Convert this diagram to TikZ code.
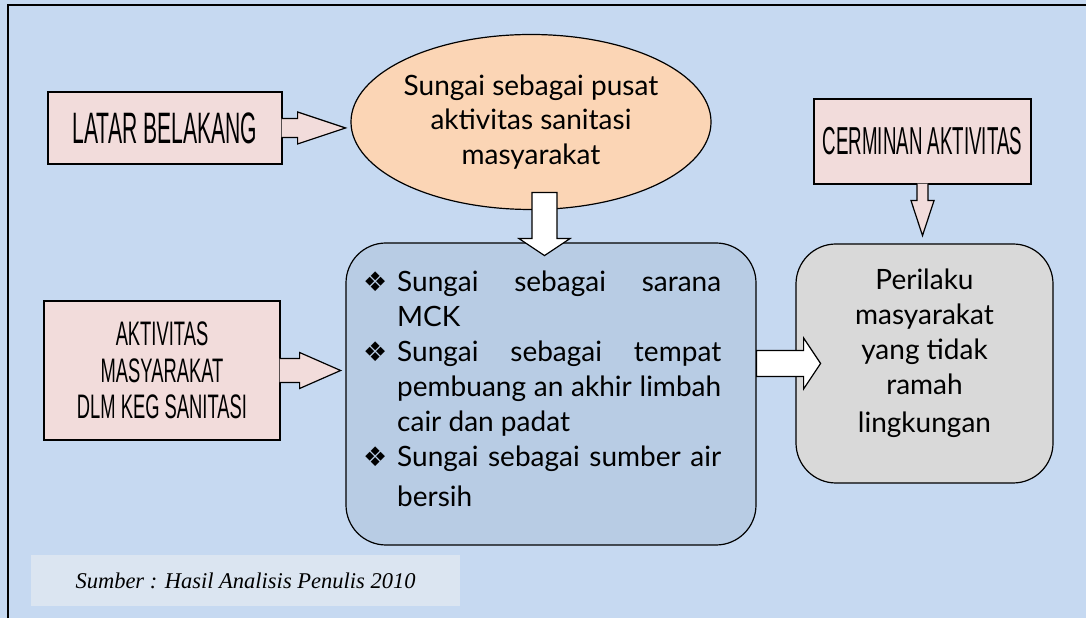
\documentclass[tikz,border=0pt]{standalone}
\usepackage{fontspec}
\setmainfont{Lato}
\newfontfamily\hurufsempit[FakeStretch=0.48]{Liberation Sans}
\newfontfamily\hurufsempitb[FakeStretch=0.54]{Liberation Sans}
\newfontfamily\hurufsimbol{DejaVu Sans}
\newfontfamily\hurufmiring{Liberation Serif}
\usepackage{xcolor}
\usepackage{tikz}
\usetikzlibrary{shapes,arrows,positioning,calc}
\definecolor{birulatar}{HTML}{C6D9F1}
\definecolor{birusumber}{HTML}{DBE5F1}
\definecolor{birukotak}{HTML}{B8CCE4}
\definecolor{merahmuda}{HTML}{F2DCDB}
\definecolor{jingga}{HTML}{FBD5B5}
\definecolor{abu}{HTML}{D9D9D9}
\newcommand{\butir}{{\hurufsimbol\fontsize{27}{27}\selectfont ❖}}
\newcommand{\poin}{\hangindent=34pt\hangafter=1\noindent\makebox[34pt][l]{\butir}}
\tikzstyle{kotak} = [rectangle, draw, fill=merahmuda, line width=1.2pt, align=center, inner sep=0pt]
\tikzstyle{elips} = [ellipse, draw, fill=jingga, line width=1.2pt, align=center, inner sep=0pt]
\tikzstyle{bulat} = [rectangle, draw, rounded corners=40pt, line width=1.2pt, align=center, inner sep=0pt]
\tikzstyle{panah} = [draw, fill=white, line width=1.2pt, line join=miter]
\tikzstyle{panahpink} = [panah, fill=merahmuda]

\begin{document}
\begin{tikzpicture}[x=1pt, y=1pt]
	\useasboundingbox (0,0) rectangle (1086,618);
	\fill [birulatar] (0,0) rectangle (1086,618);
	\draw [line width=2pt] (8,0) -- (8,613) -- (1086,613);
	
	
	\node [kotak, minimum width=234pt, minimum height=72pt, font=\hurufsempit\fontsize{44}{48}\selectfont] (latar) at (165,490) {LATAR BELAKANG};
	\node [elips, minimum width=348pt, minimum height=175pt, font=\fontsize{28}{34.5}\selectfont] (pusat) at (531,496) {Sungai sebagai pusat\\ aktivitas sanitasi\\ masyarakat};
	\node [kotak, minimum width=217pt, minimum height=85pt, font=\hurufsempit\fontsize{39}{42}\selectfont] (cermin) at (922.5,476.5) {CERMINAN AKTIVITAS};
	
	
	\node [kotak, minimum width=236pt, minimum height=139pt, font=\hurufsempitb\fontsize{34}{36.5}\selectfont] (aktivitas) at (162,247.5) {AKTIVITAS\\ MASYARAKAT\\ DLM KEG SANITASI};
	\node [bulat, fill=birukotak, minimum width=410pt, minimum height=302pt] (sungai) at (551,224) {};
	\node [anchor=north west, inner sep=0pt, text width=358pt, align=justify, font=\fontsize{28}{35}\selectfont] (isi) at (363,351.5) {%
		\poin\strut Sungai sebagai sarana\linebreak MCK\par
		\poin Sungai sebagai tempat\linebreak pembuang an akhir limbah\linebreak cair dan padat\par
		\poin Sungai sebagai sumber air\vadjust{\vskip5pt}\linebreak bersih\par};
	\node [bulat, fill=abu, minimum width=257pt, minimum height=239pt] (perilaku) at (924.5,254.5) {};
	\node [align=center, inner sep=0pt, font=\fontsize{28}{35}\selectfont] (ket) at ([yshift=10pt]perilaku.center) {Perilaku\\ masyarakat\\ yang tidak\\ ramah\\[3pt] lingkungan};
	
	
	\node [fill=birusumber, minimum width=429pt, minimum height=51pt, inner sep=0pt, font=\hurufmiring\itshape\fontsize{22.5}{26}\selectfont] (sumber) at (245.5,37.5) {Sumber : Hasil Analisis Penulis 2010};
	
	
	\path [panahpink] ([xshift=-1pt,yshift=9.5pt]latar.east) -- ++(16,0) -- ++(0,6.5) -- ++(48,-16) -- ++(-48,-16) -- ++(0,6.5) -- ++(-16,0);
	\path [panahpink] ([xshift=-1pt,yshift=12pt]aktivitas.east) -- ++(20,0) -- ++(0,6) -- ++(41,-18) -- ++(-41,-18) -- ++(0,6) -- ++(-20,0);
	\path [panahpink] ([xshift=-5.5pt,yshift=1pt]cermin.south) -- ++(0,-17) -- ++(-6,0) -- ++(11.5,-35) -- ++(11.5,35) -- ++(-6,0) -- ++(0,17);
	
	
	\path [panah] ([xshift=1pt,yshift=17.5pt]pusat.south) -- ++(25,0) -- ++(0,-46) -- ++(13,0) -- ++(-25.5,-17) -- ++(-25.5,17) -- ++(13,0) -- cycle;
	\path [panah] ($(sungai.east |- perilaku.west)+(0,13)$) -- ++(47,0) -- ++(0,12.5) -- ++(17,-25.5) -- ++(-17,-25.5) -- ++(0,12.5) -- ++(-47,0) -- cycle;
\end{tikzpicture}
\end{document}
